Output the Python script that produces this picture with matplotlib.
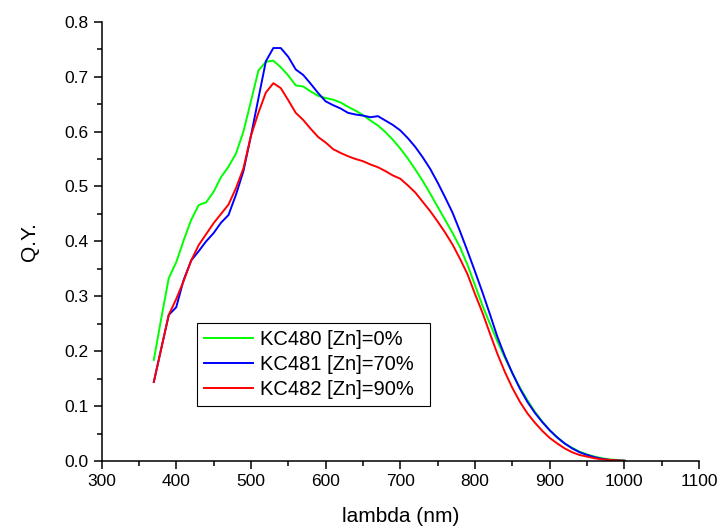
import matplotlib
matplotlib.use("Agg")
import matplotlib.pyplot as plt
from matplotlib.ticker import MultipleLocator

plt.rcParams['font.family'] = ['Liberation Sans', 'DejaVu Sans']

wavelength = list(range(370, 1001, 10))

kc480 = [0.184, 0.260, 0.333, 0.362, 0.402, 0.439, 0.466, 0.471, 0.490, 0.517,
         0.536, 0.560, 0.600, 0.655, 0.711, 0.727, 0.729, 0.717, 0.702, 0.684,
         0.682, 0.673, 0.665, 0.661, 0.658, 0.653, 0.645, 0.638, 0.630, 0.620,
         0.611, 0.599, 0.585, 0.569, 0.551, 0.531, 0.510, 0.487, 0.463, 0.439,
         0.415, 0.389, 0.357, 0.320, 0.283, 0.250, 0.218, 0.188, 0.160, 0.134,
         0.111, 0.090, 0.072, 0.056, 0.043, 0.032, 0.024, 0.017, 0.012, 0.008,
         0.005, 0.003, 0.002, 0.001]

kc481 = [0.144, 0.205, 0.266, 0.280, 0.330, 0.365, 0.382, 0.400, 0.415, 0.434,
         0.448, 0.485, 0.528, 0.592, 0.660, 0.728, 0.752, 0.752, 0.736, 0.713,
         0.703, 0.687, 0.670, 0.655, 0.648, 0.642, 0.634, 0.631, 0.629, 0.626,
         0.628, 0.620, 0.612, 0.602, 0.588, 0.572, 0.553, 0.532, 0.507, 0.480,
         0.452, 0.418, 0.382, 0.345, 0.307, 0.267, 0.226, 0.191, 0.160, 0.132,
         0.108, 0.088, 0.071, 0.056, 0.043, 0.032, 0.023, 0.016, 0.011, 0.007,
         0.004, 0.002, 0.001, 0.0005]

kc482 = [0.144, 0.205, 0.266, 0.295, 0.328, 0.365, 0.393, 0.413, 0.433, 0.450,
         0.467, 0.497, 0.533, 0.592, 0.634, 0.671, 0.688, 0.679, 0.657, 0.634,
         0.621, 0.605, 0.590, 0.580, 0.568, 0.561, 0.555, 0.550, 0.546, 0.540,
         0.535, 0.528, 0.520, 0.514, 0.502, 0.489, 0.472, 0.455, 0.436, 0.416,
         0.394, 0.368, 0.340, 0.304, 0.270, 0.232, 0.195, 0.162, 0.133, 0.108,
         0.087, 0.070, 0.055, 0.042, 0.032, 0.023, 0.016, 0.011, 0.008, 0.005,
         0.003, 0.002, 0.001, 0.0005]

labels = ["KC480 [Zn]=0%", "KC481 [Zn]=70%", "KC482 [Zn]=90%"]
colors = ["#00ff00", "#0000ff", "#ff0000"]

fig = plt.figure(figsize=(7.2, 5.29), dpi=100)
ax = fig.add_axes([0.141, 0.1285, 0.830, 0.8305])

for series, lab, col in zip([kc480, kc481, kc482], labels, colors):
    ax.plot(wavelength, series, color=col, lw=1.4, label=lab)

ax.set_xlim(300, 1100)
ax.set_ylim(0, 0.8)
ax.xaxis.set_major_locator(MultipleLocator(100))
ax.xaxis.set_minor_locator(MultipleLocator(50))
ax.yaxis.set_major_locator(MultipleLocator(0.1))
ax.yaxis.set_minor_locator(MultipleLocator(0.05))
ax.yaxis.set_major_formatter(plt.FormatStrFormatter('%.1f'))

ax.spines['top'].set_visible(False)
ax.spines['right'].set_visible(False)
for s in ['left', 'bottom']:
    ax.spines[s].set_linewidth(1.1)
ax.tick_params(which='major', direction='out', length=6, width=1.1, labelsize=12.5)
ax.tick_params(which='minor', direction='out', length=3.5, width=1.1)

ax.set_xlabel("lambda (nm)", fontsize=15, labelpad=13)
ax.set_ylabel("Q.Y.", fontsize=15, labelpad=18)

# legend box stretched to the reference width (text stays left)
leg = ax.legend(loc='lower left', bbox_to_anchor=(0.16, 0.125, 0.39, 0.18),
                mode='expand', borderaxespad=0,
                fontsize=14.5, fancybox=False, framealpha=1, edgecolor='black',
                handlelength=2.4, handletextpad=0.35, labelspacing=0.3,
                borderpad=0.35)
leg.get_frame().set_linewidth(0.8)

fig.savefig("out.png", dpi=100)
